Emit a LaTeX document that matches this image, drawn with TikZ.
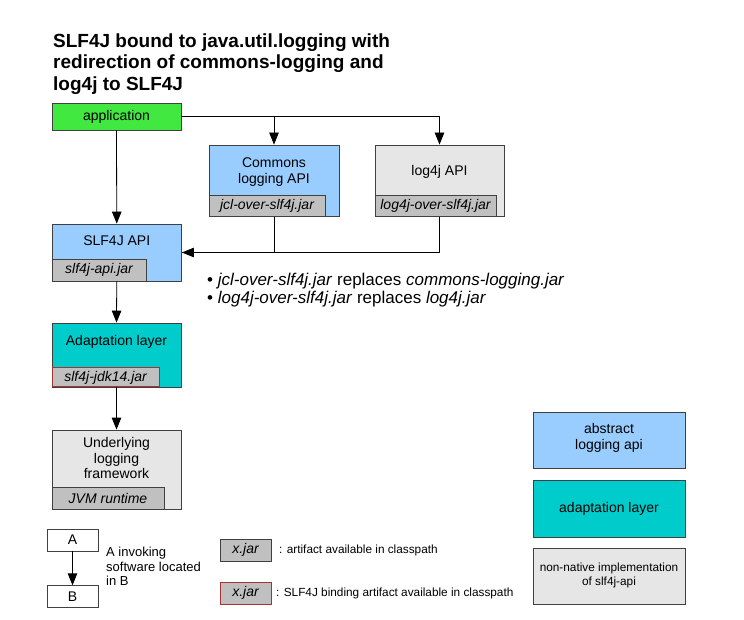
\documentclass[tikz,border=0pt]{standalone}
\usepackage{fontspec}
\setmainfont{Liberation Sans}
\usetikzlibrary{arrows.meta}
\definecolor{appgreen}{HTML}{40E840}
\definecolor{apiblue}{HTML}{99CCFF}
\definecolor{adaptteal}{HTML}{00CCCC}
\definecolor{implgray}{HTML}{E6E6E6}
\definecolor{jargray}{HTML}{C0C0C0}
\definecolor{bordergray}{HTML}{404040}
\definecolor{jarred}{HTML}{A83232}
\begin{document}
\begin{tikzpicture}[x=1pt,y=-1pt,
  box/.style={draw=bordergray, line width=0.8pt, inner sep=0pt, rectangle},
  jarbox/.style={draw=bordergray, line width=0.8pt, fill=jargray, inner sep=0pt, anchor=south west,
    font=\fontsize{14}{16}\selectfont\itshape},
  redjar/.style={jarbox, draw=jarred, line width=1pt},
  lbl/.style={font=\fontsize{14}{16}\selectfont, align=center, inner sep=0pt},
  small/.style={font=\fontsize{11.8}{14}\selectfont, inner sep=0pt},
  arr/.style={-{Triangle[length=12pt,width=9.5pt]}, line width=0.8pt},
  conn/.style={line width=0.8pt}]
\useasboundingbox[fill=white] (0,0) rectangle (744,620);

% title
\node[anchor=north west, inner sep=0pt, align=left, font=\fontsize{19}{21.5}\selectfont\bfseries] (title) at (53,33.5)
  {SLF4J bound to java.util.logging with\\redirection of commons-logging and\\log4j to SLF4J};

% main boxes
\node[box, fill=appgreen, minimum width=129pt, minimum height=27pt, font=\fontsize{14}{16}\selectfont] (app) at (116.5,116.5) {application};

\node[box, fill=apiblue, minimum width=130pt, minimum height=71.5pt] (commons) at (274,180.75) {};
\node[jarbox, minimum width=116pt, minimum height=21.5pt] (cjar) at (commons.south west) {jcl-over-slf4j.jar};
\node[lbl] (ctext) at (274,172) {Commons\\logging API};

\node[box, fill=implgray, minimum width=129pt, minimum height=71.5pt] (log4j) at (439.5,180.75) {};
\node[jarbox, minimum width=121pt, minimum height=21.5pt] (ljar) at (log4j.south west) {log4j-over-slf4j.jar};
\node[lbl] (ltext) at (439.5,172) {log4j API};

\node[box, fill=apiblue, minimum width=129.5pt, minimum height=57pt] (slf) at (116.75,252.5) {};
\node[jarbox, minimum width=94pt, minimum height=22pt] (sjar) at (slf.south west) {slf4j-api.jar};
\node[lbl] (stext) at (116.75,241) {SLF4J API};

\node[box, fill=adaptteal, minimum width=129pt, minimum height=64pt] (adapt) at (116.5,355) {};
\node[redjar, minimum width=107pt, minimum height=19pt] (ajar) at (adapt.south west) {slf4j-jdk14.jar};
\node[lbl] (atext) at (116.5,342) {Adaptation layer};

\node[box, fill=implgray, minimum width=129pt, minimum height=79pt] (under) at (116.5,469.5) {};
\node[jarbox, minimum width=112pt, minimum height=22pt] (ujar) at (under.south west) {JVM runtime};
\node[lbl, font=\fontsize{14}{15.5}\selectfont] (utext) at (116.5,458) {Underlying\\logging\\framework};

% connectors
\draw[arr] (app.east) -| (log4j.north);
\draw[arr] (app.east -| commons.north) -- (commons.north);
\draw[arr] (app.south) -- (slf.north);
\draw[conn] (commons.south) |- (slf.east);
\draw[arr] (log4j.south) |- (slf.east);
\draw[arr] (slf.south) -- (adapt.north);
\draw[arr] (adapt.south) -- (under.north);

% bullets
\node[anchor=base west, inner sep=0pt, font=\fontsize{17}{17.5}\selectfont] (b1) at (207,285.5)
  {\textbullet\ \textit{jcl-over-slf4j.jar} replaces \textit{commons-logging.jar}};
\node[anchor=base west, inner sep=0pt, font=\fontsize{17}{17.5}\selectfont] (b2) at (207,303)
  {\textbullet\ \textit{log4j-over-slf4j.jar} replaces \textit{log4j.jar}};

% right legend
\node[box, fill=apiblue, minimum width=152pt, minimum height=56pt] (labs) at (609,440) {};
\node[lbl] (labstext) at (609,438) {abstract\\logging api};
\node[box, fill=adaptteal, minimum width=152pt, minimum height=57pt] (ladapt) at (609,508.5) {};
\node[lbl] (ladapttext) at (609,508.5) {adaptation layer};
\node[box, fill=implgray, minimum width=152pt, minimum height=56pt] (limpl) at (609,576) {};
\node[small, align=center] (limpltext) at (609,575) {non-native implementation\\of slf4j-api};

% bottom legend
\node[box, minimum width=51pt, minimum height=22pt, font=\fontsize{14}{16}\selectfont] (A) at (72.5,540) {A};
\node[box, minimum width=51pt, minimum height=21.5pt, font=\fontsize{14}{16}\selectfont] (B) at (72.5,596.5) {B};
\draw[arr] (A.south) -- (B.north);
\node[anchor=west, inner sep=0pt, align=left, font=\fontsize{13}{14.5}\selectfont] (abtext) at (106,566.5)
  {A invoking\\software located\\in B};

\node[box, fill=jargray, minimum width=51pt, minimum height=22pt, font=\fontsize{14}{16}\selectfont\itshape] (x1) at (245.5,550) {x.jar};
\node[small, anchor=west] (x1text) at (279,550) {: artifact available in classpath};
\node[box, draw=jarred, line width=1pt, fill=jargray, minimum width=51pt, minimum height=22pt, font=\fontsize{14}{16}\selectfont\itshape] (x2) at (245.5,593) {x.jar};
\node[small, anchor=west] (x2text) at (276,593) {: SLF4J binding artifact available in classpath};
\end{tikzpicture}
\end{document}
